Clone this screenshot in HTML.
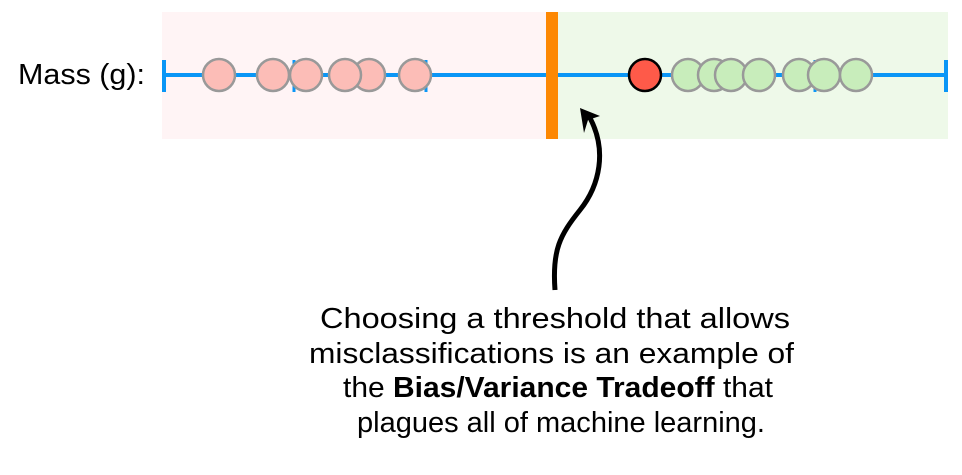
<!DOCTYPE html>
<html><head><meta charset="utf-8"><style>html,body{margin:0;padding:0;background:#fff}svg{display:block}</style></head>
<body>
<svg width="962" height="475" viewBox="0 0 962 475" xmlns="http://www.w3.org/2000/svg" font-family="Liberation Sans, Arial, sans-serif">
<rect x="162" y="12" width="386" height="127" fill="#fff4f5"/>
<rect x="556" y="12" width="392" height="127" fill="#eef9e9"/>
<text x="18" y="84" font-size="29" textLength="127" lengthAdjust="spacingAndGlyphs" fill="#000">Mass (g):</text>
<line x1="163" y1="75" x2="946" y2="75" stroke="#0a96f6" stroke-width="4"/>
<line x1="164" y1="60" x2="164" y2="92" stroke="#0a96f6" stroke-width="4"/>
<line x1="946" y1="60" x2="946" y2="92" stroke="#0a96f6" stroke-width="4"/>
<line x1="294" y1="60" x2="294" y2="92" stroke="#0a96f6" stroke-width="3"/>
<line x1="426" y1="60" x2="426" y2="92" stroke="#0a96f6" stroke-width="3"/>
<line x1="815" y1="60" x2="815" y2="92" stroke="#0a96f6" stroke-width="3"/>
<g fill="#fcbdb7" stroke="#999" stroke-width="2.5">
<circle cx="219" cy="75" r="16"/><circle cx="273" cy="75" r="16"/><circle cx="306" cy="75" r="16"/>
<circle cx="369" cy="75" r="16"/><circle cx="345" cy="75" r="16"/><circle cx="415" cy="75" r="16"/>
</g>
<g fill="#c8edbb" stroke="#999" stroke-width="2.5">
<circle cx="688" cy="75" r="16"/><circle cx="714" cy="75" r="16"/><circle cx="731" cy="75" r="16"/>
<circle cx="759" cy="75" r="16"/><circle cx="799" cy="75" r="16"/><circle cx="824" cy="75" r="16"/><circle cx="856" cy="75" r="16"/>
</g>
<circle cx="645" cy="75" r="16" fill="#fe5a49" stroke="#000" stroke-width="2.5"/>
<rect x="546" y="12" width="12" height="127" fill="#fd8802"/>
<path d="M555 290 C552 250 560 235 580 210 C600 185 607 150 590 118" fill="none" stroke="#000" stroke-width="5"/>
<polygon points="580,108 600,116 588,120 584,133" fill="#000"/>
<g font-size="29" fill="#000" lengthAdjust="spacingAndGlyphs">
<text x="320" y="328" textLength="470" lengthAdjust="spacingAndGlyphs">Choosing a threshold that allows</text>
<text x="309" y="363" textLength="485" lengthAdjust="spacingAndGlyphs">misclassifications is an example of</text>
<text x="343" y="397" textLength="430" lengthAdjust="spacingAndGlyphs">the <tspan font-weight="bold">Bias/Variance Tradeoff</tspan> that</text>
<text x="357" y="432" textLength="408" lengthAdjust="spacingAndGlyphs">plagues all of machine learning.</text>
</g>
</svg>
</body></html>
